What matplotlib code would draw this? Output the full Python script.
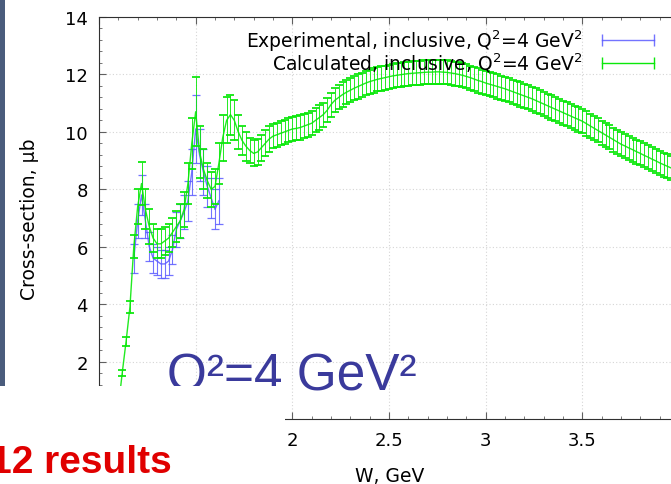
import matplotlib.pyplot as plt
from matplotlib.patches import Rectangle
from matplotlib.lines import Line2D

# experimental data (blue)
w_exp = [1.18, 1.20, 1.22, 1.24, 1.26, 1.28, 1.30, 1.32, 1.34, 1.36, 1.38, 1.40,
         1.42, 1.44, 1.46, 1.48, 1.50, 1.52, 1.54, 1.56, 1.58, 1.60, 1.62]
xs_exp = [5.6, 6.9, 7.8, 6.9, 6.0, 5.6, 5.5, 5.4, 5.4, 5.5, 5.9, 6.6,
          6.9, 7.2, 7.6, 8.6, 10.1, 9.2, 8.6, 8.1, 7.7, 7.3, 7.6]
err_exp = [0.5, 0.6, 0.7, 0.6, 0.5, 0.5, 0.5, 0.5, 0.5, 0.5, 0.5, 0.6,
           0.6, 0.6, 0.7, 0.8, 1.2, 0.9, 0.8, 0.7, 0.7, 0.7, 0.8]

# calculated data (green)
w_calc = [1.10, 1.12, 1.14, 1.16, 1.18, 1.20, 1.22, 1.24, 1.26, 1.28, 1.30, 1.32,
          1.34, 1.36, 1.38, 1.40, 1.42, 1.44, 1.46, 1.48, 1.50, 1.52, 1.54, 1.56,
          1.58, 1.60, 1.62, 1.64, 1.66, 1.68, 1.70, 1.72, 1.74, 1.76, 1.78, 1.80,
          1.82, 1.84, 1.86, 1.88, 1.90, 1.92, 1.94, 1.96, 1.98, 2.00, 2.02, 2.04,
          2.06, 2.08, 2.10, 2.12, 2.14, 2.16, 2.18, 2.20, 2.22, 2.24, 2.26, 2.28,
          2.30, 2.32, 2.34, 2.36, 2.38, 2.40, 2.42, 2.44, 2.46, 2.48, 2.50, 2.52,
          2.54, 2.56, 2.58, 2.60, 2.62, 2.64, 2.66, 2.68, 2.70, 2.72, 2.74, 2.76,
          2.78, 2.80, 2.82, 2.84, 2.86, 2.88, 2.90, 2.92, 2.94, 2.96, 2.98, 3.00,
          3.02, 3.04, 3.06, 3.08, 3.10, 3.12, 3.14, 3.16, 3.18, 3.20, 3.22, 3.24,
          3.26, 3.28, 3.30, 3.32, 3.34, 3.36, 3.38, 3.40, 3.42, 3.44, 3.46, 3.48,
          3.50, 3.52, 3.54, 3.56, 3.58, 3.60, 3.62, 3.64, 3.66, 3.68, 3.70, 3.72,
          3.74, 3.76, 3.78, 3.80, 3.82, 3.84, 3.86, 3.88, 3.90, 3.92, 3.94, 3.96,
          3.98, 4.00]
xs_calc = [0.4, 1.6, 2.7, 3.9, 6.0, 7.4, 8.2, 7.3, 6.7, 6.3, 6.1, 6.1,
           6.2, 6.3, 6.5, 6.7, 6.9, 7.3, 8.2, 9.6, 10.7, 9.3, 8.7, 8.3,
           8.0, 8.1, 8.9, 9.8, 10.4, 10.6, 10.4, 10.0, 9.7, 9.5, 9.35, 9.25,
           9.3, 9.45, 9.6, 9.75, 9.85, 9.9, 9.95, 10.0, 10.05, 10.1, 10.12, 10.15,
           10.2, 10.25, 10.3, 10.4, 10.5, 10.6, 10.75, 10.95, 11.1, 11.2, 11.3, 11.38,
           11.45, 11.52, 11.58, 11.64, 11.7, 11.75, 11.79, 11.83, 11.86, 11.89, 11.92, 11.95,
           11.97, 11.99, 12.01, 12.03, 12.04, 12.05, 12.06, 12.07, 12.08, 12.08, 12.09, 12.09,
           12.08, 12.07, 12.05, 12.03, 12.0, 11.97, 11.93, 11.89, 11.84, 11.79, 11.75, 11.7,
           11.66, 11.62, 11.58, 11.54, 11.5, 11.45, 11.4, 11.35, 11.3, 11.25, 11.2, 11.15,
           11.09, 11.03, 10.97, 10.91, 10.85, 10.79, 10.73, 10.67, 10.61, 10.55, 10.49, 10.43,
           10.37, 10.29, 10.21, 10.13, 10.05, 9.97, 9.89, 9.81, 9.73, 9.65, 9.57, 9.51,
           9.44, 9.38, 9.31, 9.25, 9.18, 9.12, 9.05, 8.99, 8.92, 8.86, 8.8, 8.74,
           8.68, 8.62]
err_calc = [0.05, 0.1, 0.15, 0.2, 0.4, 0.6, 0.75, 0.7, 0.6, 0.5, 0.5, 0.5,
            0.5, 0.5, 0.5, 0.55, 0.6, 0.6, 0.7, 0.9, 1.2, 0.9, 0.7, 0.6,
            0.6, 0.6, 0.7, 0.8, 0.8, 0.7, 0.7, 0.6, 0.5, 0.5, 0.45, 0.45,
            0.45, 0.45, 0.45, 0.45, 0.42, 0.42, 0.42, 0.42, 0.42, 0.42, 0.42, 0.42,
            0.42, 0.42, 0.42, 0.42, 0.42, 0.42, 0.42, 0.42, 0.42, 0.42, 0.42, 0.42,
            0.42, 0.42, 0.42, 0.42, 0.42, 0.42, 0.42, 0.42, 0.42, 0.42, 0.42, 0.42,
            0.42, 0.42, 0.42, 0.42, 0.42, 0.42, 0.42, 0.42, 0.42, 0.42, 0.42, 0.42,
            0.42, 0.42, 0.42, 0.42, 0.42, 0.42, 0.42, 0.42, 0.42, 0.42, 0.42, 0.42,
            0.42, 0.42, 0.42, 0.42, 0.42, 0.42, 0.42, 0.42, 0.42, 0.42, 0.42, 0.42,
            0.42, 0.42, 0.42, 0.42, 0.42, 0.42, 0.42, 0.42, 0.42, 0.42, 0.42, 0.42,
            0.42, 0.42, 0.42, 0.42, 0.42, 0.42, 0.42, 0.42, 0.42, 0.42, 0.42, 0.42,
            0.42, 0.42, 0.42, 0.42, 0.42, 0.42, 0.42, 0.42, 0.42, 0.42, 0.42, 0.42,
            0.42, 0.42]

label_exp = 'Experimental, inclusive, Q$^2$=4 GeV$^2$'
label_calc = 'Calculated, inclusive, Q$^2$=4 GeV$^2$'

# tick labels (those under the slide overlay or past the edge are left blank)
x_ticks = [1.0, 1.5, 2.0, 2.5, 3.0, 3.5, 4.0]
x_labels = ['', '', '2', '2.5', '3', '3.5', '']
y_ticks = [0, 2, 4, 6, 8, 10, 12, 14]
y_labels = ['', '2', '4', '6', '8', '10', '12', '14']

blue = '#5a5aff'
green = '#0ae80a'

fig = plt.figure(figsize=(6.71, 4.85), dpi=100)
ax = fig.add_axes([99 / 671, 65 / 485, 580 / 671, 402 / 485])

ax.errorbar(w_exp, xs_exp, yerr=err_exp, color=blue, lw=1, elinewidth=0.8,
            capsize=3, capthick=0.9, alpha=0.85, zorder=2)
ax.errorbar(w_calc, xs_calc, yerr=err_calc, color=green, lw=1, elinewidth=0.7,
            capsize=3, capthick=1.4, alpha=0.9, zorder=3)

ax.set_xlim(1.0, 4.0)
ax.set_ylim(0, 14)
ax.set_xticks(x_ticks)
ax.set_xticklabels(x_labels)
ax.set_yticks(y_ticks)
ax.set_yticklabels(y_labels)
ax.set_xticks([x / 10 for x in range(10, 41)], minor=True)
ax.set_yticks([y * 0.4 for y in range(0, 36)], minor=True)
ax.tick_params(which='both', direction='in', top=True, right=True, color='#606060')
ax.tick_params(which='major', length=5, labelsize=13, pad=9)
ax.tick_params(which='minor', length=2.5)
ax.tick_params(axis='y', pad=8)
ax.grid(True, which='major', color='#d5d5d5', linestyle=(0, (1, 2)), linewidth=0.8)
ax.set_axisbelow(True)
for s in ax.spines.values():
    s.set_color('#303030')

fig.text(30 / 671, 1 - 219 / 485, 'Cross-section, μb', rotation=90,
         ha='center', va='center', fontsize=13.5)
fig.text(390 / 671, 3 / 485, 'W, GeV', ha='center', va='baseline', fontsize=13.5)

handles = [Line2D([], [], color=blue, lw=1, marker='|', markersize=9, alpha=0.85),
           Line2D([], [], color=green, lw=1, marker='|', markersize=9)]
ax.legend(handles, [label_exp, label_calc], loc='upper right',
          bbox_to_anchor=(660 / 671, 1 - 28 / 485), bbox_transform=fig.transFigure,
          frameon=False, fontsize=13.5, markerfirst=False, numpoints=2,
          handlelength=3.4, handletextpad=0.7, labelspacing=-0.1,
          borderpad=0, borderaxespad=0)

# slide overlays
fig.text(167 / 671, (485 - 390) / 485, 'Q²=4 GeV²', fontsize=37,
         family='Liberation Sans', color='#3a3a9c', ha='left', va='baseline', zorder=5)
fig.add_artist(Rectangle((0, 0), 285 / 671, 98 / 485, transform=fig.transFigure,
                         facecolor='white', edgecolor='none', zorder=10))
fig.add_artist(Rectangle((0, 98 / 485), 5 / 671, 387 / 485, transform=fig.transFigure,
                         facecolor='#4a5c7c', edgecolor='none', zorder=10))
fig.text(172 / 671, (485 - 473) / 485, '12 results', fontsize=28, weight='bold',
         family='Liberation Sans', color='#e00000', ha='right', va='baseline', zorder=11)

plt.savefig('out.png', dpi=100)
